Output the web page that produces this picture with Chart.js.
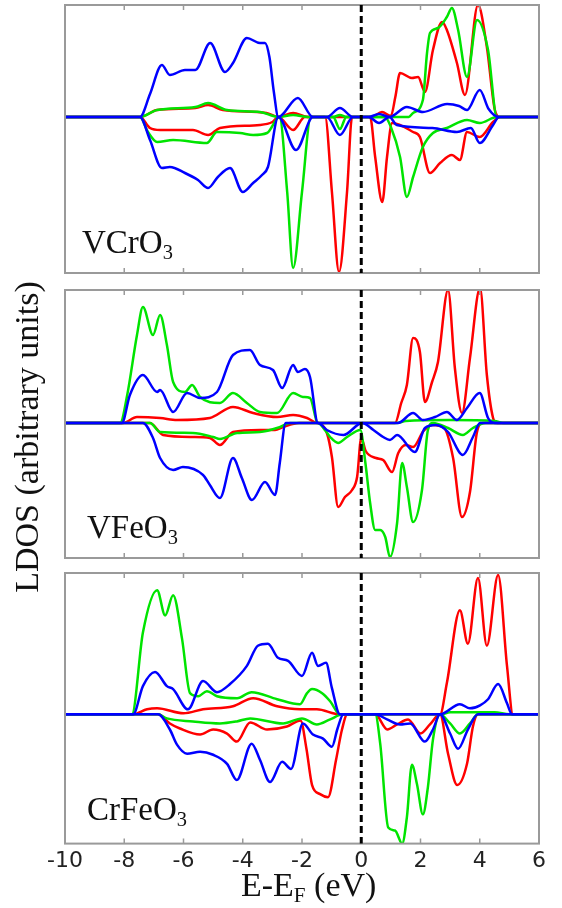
<!DOCTYPE html>
<html>
<head>
<meta charset="utf-8">
<script src="https://cdn.jsdelivr.net/npm/chart.js@4/dist/chart.umd.min.js"></script>
<style>
  body { margin: 0; background: #fff; }
  #wrap { position: relative; width: 562px; height: 908px; overflow: hidden; }
  .panel { position: absolute; left: 0; width: 562px; }
  .txt { position: absolute; font-family: "Liberation Serif", serif; color: #111; line-height: 1; white-space: nowrap; }
  .txt sub { font-size: 0.62em; line-height: 0; vertical-align: -0.28em; }
</style>
</head>
<body>
<div id="wrap">
  <div class="panel" style="top:0px;height:280px"><canvas id="c1"></canvas></div>
  <div class="panel" style="top:285px;height:280px"><canvas id="c2"></canvas></div>
  <div class="panel" style="top:568px;height:340px"><canvas id="c3"></canvas></div>

  <div class="txt" style="left:82px;top:226px;font-size:33px">VCrO<sub>3</sub></div>
  <div class="txt" style="left:87px;top:511px;font-size:33px">VFeO<sub>3</sub></div>
  <div class="txt" style="left:87px;top:793px;font-size:33px">CrFeO<sub>3</sub></div>

  <div class="txt" style="left:241px;top:868px;font-size:34px">E-E<sub>F</sub> (eV)</div>
  <div class="txt" style="left:-173px;top:417px;width:400px;height:40px;line-height:40px;text-align:center;font-size:34px;transform:rotate(-90deg)">LDOS (arbitrary units)</div>
</div>

<script>
const xTicks = [-10, -8, -6, -4, -2, 0, 2, 4, 6];
const red = "#ff0000";
const green = "#00e400";
const blue = "#0000ff";

// VCrO3  [E (eV), LDOS]  up = spin up, dn = spin down
const vcrBlueUp = [[-10,0],[-7.47,0],[-7.13,23],[-6.73,52],[-6.46,42],[-5.95,47],[-5.6,47],[-5.1,74],[-4.6,45],[-4.33,54],[-3.86,79],[-3.42,74],[-3.25,74],[-3.1,60],[-2.95,25],[-2.8,0],[-2.14,19],[-1.63,0],[-1.16,0],[-0.72,9],[-0.28,0],[0.25,0],[0.6,3],[0.95,0],[1.54,10],[2.08,5],[2.9,13],[3.3,11],[3.57,7],[4.0,27],[4.3,8],[4.65,0],[6,0]];
const vcrBlueDn = [[-10,0],[-7.47,0],[-7.13,-23],[-6.73,-51],[-6.46,-50],[-5.95,-56],[-5.51,-63],[-5.17,-71],[-4.84,-60],[-4.43,-51],[-4.0,-75],[-3.65,-66],[-3.35,-58],[-3.15,-50],[-2.8,0],[-2.2,-33],[-1.63,0],[-1.16,0],[-0.72,-18],[-0.28,0],[0.25,0],[0.6,-6],[0.95,0],[1.2,-8],[2.4,-11],[3.23,-15],[3.7,-11],[4.0,-26],[4.45,-8],[4.65,0],[6,0]];
const vcrGreenUp = [[-10,0],[-7.47,0],[-6.89,7],[-5.6,10],[-5.17,14],[-4.53,7],[-3.42,5],[-2.8,0],[-2.3,2],[-1.8,0],[-0.95,0],[-0.72,2],[-0.5,0],[1.6,0],[1.75,4],[2.08,17],[2.22,64],[2.32,84],[2.59,89],[2.89,100],[3.06,109],[3.27,87],[3.57,40],[3.91,97],[4.28,67],[4.58,0],[6,0]];
const vcrGreenDn = [[-10,0],[-7.47,0],[-7.2,-15],[-6.89,-25],[-6.35,-23],[-5.21,-26],[-4.87,-15],[-4.09,-16],[-3.65,-18],[-3.18,-16],[-2.76,0],[-2.5,-75],[-2.3,-151],[-2.0,-75],[-1.7,0],[-0.95,0],[-0.72,-12],[-0.5,0],[0.8,0],[1.0,-10],[1.31,-40],[1.54,-80],[1.75,-60],[2.08,-30],[2.42,-16],[2.89,-11],[3.57,-3],[4.0,-6],[4.58,0],[6,0]];
const vcrRedUp = [[-10,0],[-7.47,0],[-6.89,7],[-5.6,9],[-5.17,12],[-4.67,7],[-3.2,4],[-2.8,0],[-2.3,4],[-1.8,0],[0.35,0],[0.7,5],[1.0,1],[1.15,20],[1.31,44],[1.71,39],[1.92,40],[2.15,25],[2.42,67],[2.73,95],[2.89,87],[3.23,54],[3.5,22],[3.94,112],[4.24,70],[4.51,7],[4.68,0],[6,0]];
const vcrRedDn = [[-10,0],[-7.47,0],[-7.13,-11],[-6.79,-13],[-5.68,-13],[-5.17,-18],[-4.77,-11],[-3.42,-8],[-3.0,-5],[-2.8,0],[-2.3,-13],[-1.9,0],[-1.22,0],[-0.99,-75],[-0.75,-155],[-0.48,-75],[-0.31,0],[0.3,0],[0.47,-40],[0.71,-85],[0.87,-40],[1.04,-6],[1.75,-15],[1.98,-20],[2.32,-56],[2.66,-46],[3.06,-38],[3.33,-43],[3.57,-15],[4.0,-20],[4.45,-5],[4.68,0],[6,0]];

// VFeO3
const vfeBlueUp = [[-10,0],[-8.08,0],[-7.81,28],[-7.37,48],[-6.89,31],[-6.79,33],[-6.35,11],[-5.88,30],[-5.44,25],[-4.87,31],[-4.33,68],[-3.76,73],[-3.42,58],[-2.98,53],[-2.67,35],[-2.3,58],[-2.14,51],[-1.9,54],[-1.73,46],[-1.46,0],[1.24,0],[1.75,10],[2.08,3],[2.49,6],[2.89,11],[3.23,3],[3.57,15],[4.0,30],[4.28,5],[4.51,0],[6,0]];
const vfeBlueDn = [[-10,0],[-7.37,0],[-7.03,-15],[-6.79,-35],[-6.35,-47],[-6.02,-44],[-5.34,-52],[-5.11,-62],[-4.77,-75],[-4.33,-35],[-4.03,-55],[-3.69,-77],[-3.25,-59],[-2.91,-72],[-2.75,-40],[-2.55,0],[-1.46,0],[-1.16,-7],[-0.6,-12],[0.03,0],[0.41,-7],[0.74,-14],[0.97,-17],[1.21,-12],[1.81,-29],[2.15,-5],[2.52,-2],[2.93,-9],[3.43,-32],[3.77,-14],[4.01,0],[6,0]];
const vfeGreenUp = [[-10,0],[-8.14,0],[-7.9,28],[-7.57,88],[-7.37,116],[-7.03,88],[-6.79,108],[-6.56,78],[-6.35,41],[-5.95,31],[-5.71,38],[-5.44,26],[-4.77,20],[-4.33,30],[-3.86,20],[-3.42,11],[-2.84,10],[-2.3,30],[-1.97,26],[-1.73,25],[-1.46,0],[1.2,0],[1.5,2],[3.0,3],[4.5,2],[4.8,0],[6,0]];
const vfeGreenDn = [[-10,0],[-7.13,0],[-6.79,-9],[-5.68,-10],[-5.0,-14],[-4.77,-16],[-4.19,-10],[-3.42,-9],[-2.74,-4],[-2.4,0],[-1.46,0],[-1.2,-8],[-1.05,-14],[-0.78,-20],[-0.48,-14],[-0.03,-7],[0.14,-40],[0.3,-80],[0.47,-107],[0.64,-107],[0.81,-114],[0.97,-134],[1.21,-100],[1.38,-40],[1.54,-64],[1.75,-99],[2.05,-67],[2.25,-7],[2.42,0],[2.93,-5],[3.43,-12],[3.77,-5],[4.2,0],[6,0]];
const vfeRedUp = [[-10,0],[-8.04,0],[-7.57,6],[-6.79,5],[-6.22,3],[-5.11,5],[-4.33,16],[-3.65,10],[-2.84,6],[-2.3,8],[-1.83,5],[-1.49,0],[1.14,0],[1.35,20],[1.54,38],[1.75,85],[1.98,71],[2.15,21],[2.39,41],[2.59,61],[2.93,133],[3.16,55],[3.4,10],[3.67,65],[4.01,135],[4.24,48],[4.45,5],[4.58,0],[6,0]];
const vfeRedDn = [[-10,0],[-7.13,0],[-6.69,-12],[-5.68,-14],[-5.11,-15],[-4.77,-22],[-4.33,-9],[-3.42,-7],[-2.91,-7],[-2.64,-4],[-2.1,0],[-1.46,0],[-1.16,-10],[-0.99,-34],[-0.78,-84],[-0.55,-74],[-0.31,-67],[-0.14,-54],[0.0,-15],[0.15,-28],[0.5,-35],[0.74,-37],[1.04,-49],[1.25,-30],[1.5,-22],[1.75,-24],[2.1,-8],[2.42,-2],[2.8,-5],[3.1,-35],[3.4,-94],[3.67,-69],[3.9,-10],[4.1,0],[6,0]];

// CrFeO3
const crfBlueUp = [[-10,0],[-7.7,0],[-7.37,28],[-6.96,42],[-6.56,28],[-6.35,25],[-5.85,5],[-5.34,33],[-4.87,22],[-4.43,30],[-3.86,48],[-3.49,68],[-3.15,70],[-2.81,56],[-2.47,53],[-2.0,38],[-1.66,61],[-1.46,48],[-1.19,51],[-0.99,26],[-0.72,0],[2.66,0],[3.33,10],[3.67,6],[4.01,9],[4.28,15],[4.62,30],[4.92,11],[5.09,0],[6,0]];
const crfBlueDn = [[-10,0],[-6.86,0],[-6.46,-15],[-6.22,-30],[-5.88,-39],[-5.44,-37],[-5.0,-40],[-4.53,-49],[-4.2,-65],[-3.7,-29],[-3.42,-45],[-3.08,-67],[-2.67,-47],[-2.37,-54],[-1.97,-9],[-1.63,-20],[-1.29,-24],[-0.99,-32],[-0.8,-14],[-0.6,0],[0.47,0],[0.87,-5],[1.31,-10],[1.65,-9],[2.15,-27],[2.42,-15],[2.66,0],[3.0,-19],[3.27,-34],[3.6,-15],[3.94,0],[6,0]];
const crfGreenUp = [[-10,0],[-7.74,0],[-7.37,81],[-6.89,123],[-6.62,98],[-6.35,118],[-6.05,75],[-5.78,21],[-5.5,18],[-5.21,23],[-4.87,18],[-4.19,16],[-3.7,22],[-2.84,15],[-2.07,10],[-1.83,21],[-1.66,25],[-1.32,21],[-1.05,13],[-0.72,0],[2.7,0],[3.0,2],[4.5,2],[5.0,0],[6,0]];
const crfGreenDn = [[-10,0],[-6.86,0],[-6.56,-4],[-5.68,-7],[-4.77,-9],[-4.2,-7],[-3.75,-4],[-2.64,-9],[-2.0,-4],[-1.5,-10],[-1.05,-5],[-0.62,0],[0.47,0],[0.64,-29],[0.91,-112],[1.14,-115],[1.38,-128],[1.54,-102],[1.71,-50],[1.88,-69],[2.08,-99],[2.25,-72],[2.42,-25],[2.66,0],[3.0,-9],[3.33,-19],[3.67,-9],[3.94,0],[6,0]];
const crfRedUp = [[-10,0],[-7.7,0],[-7.23,5],[-6.89,6],[-6.0,1],[-5.34,5],[-4.33,8],[-3.65,16],[-2.84,8],[-2.07,5],[-1.5,5],[-0.72,0],[2.66,0],[2.89,31],[3.33,103],[3.6,70],[3.94,135],[4.24,68],[4.62,138],[4.92,48],[5.12,0],[6,0]];
const crfRedDn = [[-10,0],[-6.86,0],[-6.46,-9],[-6.12,-14],[-5.44,-20],[-5.0,-15],[-4.53,-19],[-4.2,-27],[-3.75,-8],[-3.18,-15],[-2.51,-12],[-2.05,-6],[-1.85,-34],[-1.66,-70],[-1.39,-79],[-1.12,-82],[-0.85,-45],[-0.65,-15],[-0.47,0],[0.47,0],[0.88,-15],[1.21,-10],[1.58,-5],[2.0,-19],[2.32,-10],[2.66,0],[2.93,-39],[3.24,-70],[3.57,-49],[3.77,-12],[3.94,0],[6,0]];

function toXY(arr) {
  return arr.map(p => ({ x: p[0], y: p[1] }));
}

// gray frame, inward x ticks, dashed Fermi line
const framePlugin = {
  id: "frame",
  afterDatasetsDraw(chart) {
    const ctx = chart.ctx;
    const a = chart.chartArea;
    const xs = chart.scales.x;
    ctx.save();
    ctx.strokeStyle = "#9a9a9a";
    ctx.lineWidth = 2;
    ctx.strokeRect(a.left, a.top, a.right - a.left, a.bottom - a.top);
    ctx.lineWidth = 1.5;
    xTicks.forEach(t => {
      const px = xs.getPixelForValue(t);
      ctx.beginPath();
      ctx.moveTo(px, a.top); ctx.lineTo(px, a.top + 5);
      ctx.moveTo(px, a.bottom); ctx.lineTo(px, a.bottom - 5);
      ctx.stroke();
    });
    const x0 = xs.getPixelForValue(0);
    ctx.strokeStyle = "#000";
    ctx.lineWidth = 3;
    ctx.setLineDash([7, 4]);
    ctx.beginPath();
    ctx.moveTo(x0, a.top); ctx.lineTo(x0, a.bottom);
    ctx.stroke();
    ctx.restore();
  }
};

function makePanel(id, yMin, yMax, series, showX, padBottom) {
  new Chart(document.getElementById(id), {
    type: "line",
    data: {
      datasets: series.map(s => ({
        data: toXY(s[0]),
        borderColor: s[1],
        borderWidth: 2.5,
        pointRadius: 0,
        fill: false,
        cubicInterpolationMode: "monotone"
      }))
    },
    options: {
      responsive: true,
      maintainAspectRatio: false,
      animation: false,
      events: [],
      layout: { padding: { left: 65, right: 23, top: 5, bottom: padBottom } },
      plugins: { legend: { display: false }, tooltip: { enabled: false } },
      scales: {
        x: {
          type: "linear", min: -10, max: 6, display: showX,
          grid: { display: false, drawTicks: false },
          border: { display: false },
          ticks: { stepSize: 2, padding: 4, color: "#222", maxRotation: 0, font: { family: "DejaVu Sans", size: 22 } }
        },
        y: { display: false, min: yMin, max: yMax }
      }
    },
    plugins: [framePlugin]
  });
}

// first dataset is drawn on top
makePanel("c1", -156, 112, [[vcrBlueUp, blue], [vcrBlueDn, blue], [vcrGreenUp, green], [vcrGreenDn, green], [vcrRedUp, red], [vcrRedDn, red]], false, 7);
makePanel("c2", -135, 133, [[vfeBlueUp, blue], [vfeBlueDn, blue], [vfeGreenUp, green], [vfeGreenDn, green], [vfeRedUp, red], [vfeRedDn, red]], false, 7);
makePanel("c3", -128, 140, [[crfBlueUp, blue], [crfBlueDn, blue], [crfGreenUp, green], [crfGreenDn, green], [crfRedUp, red], [crfRedDn, red]], true, 30);
</script>
</body>
</html>
